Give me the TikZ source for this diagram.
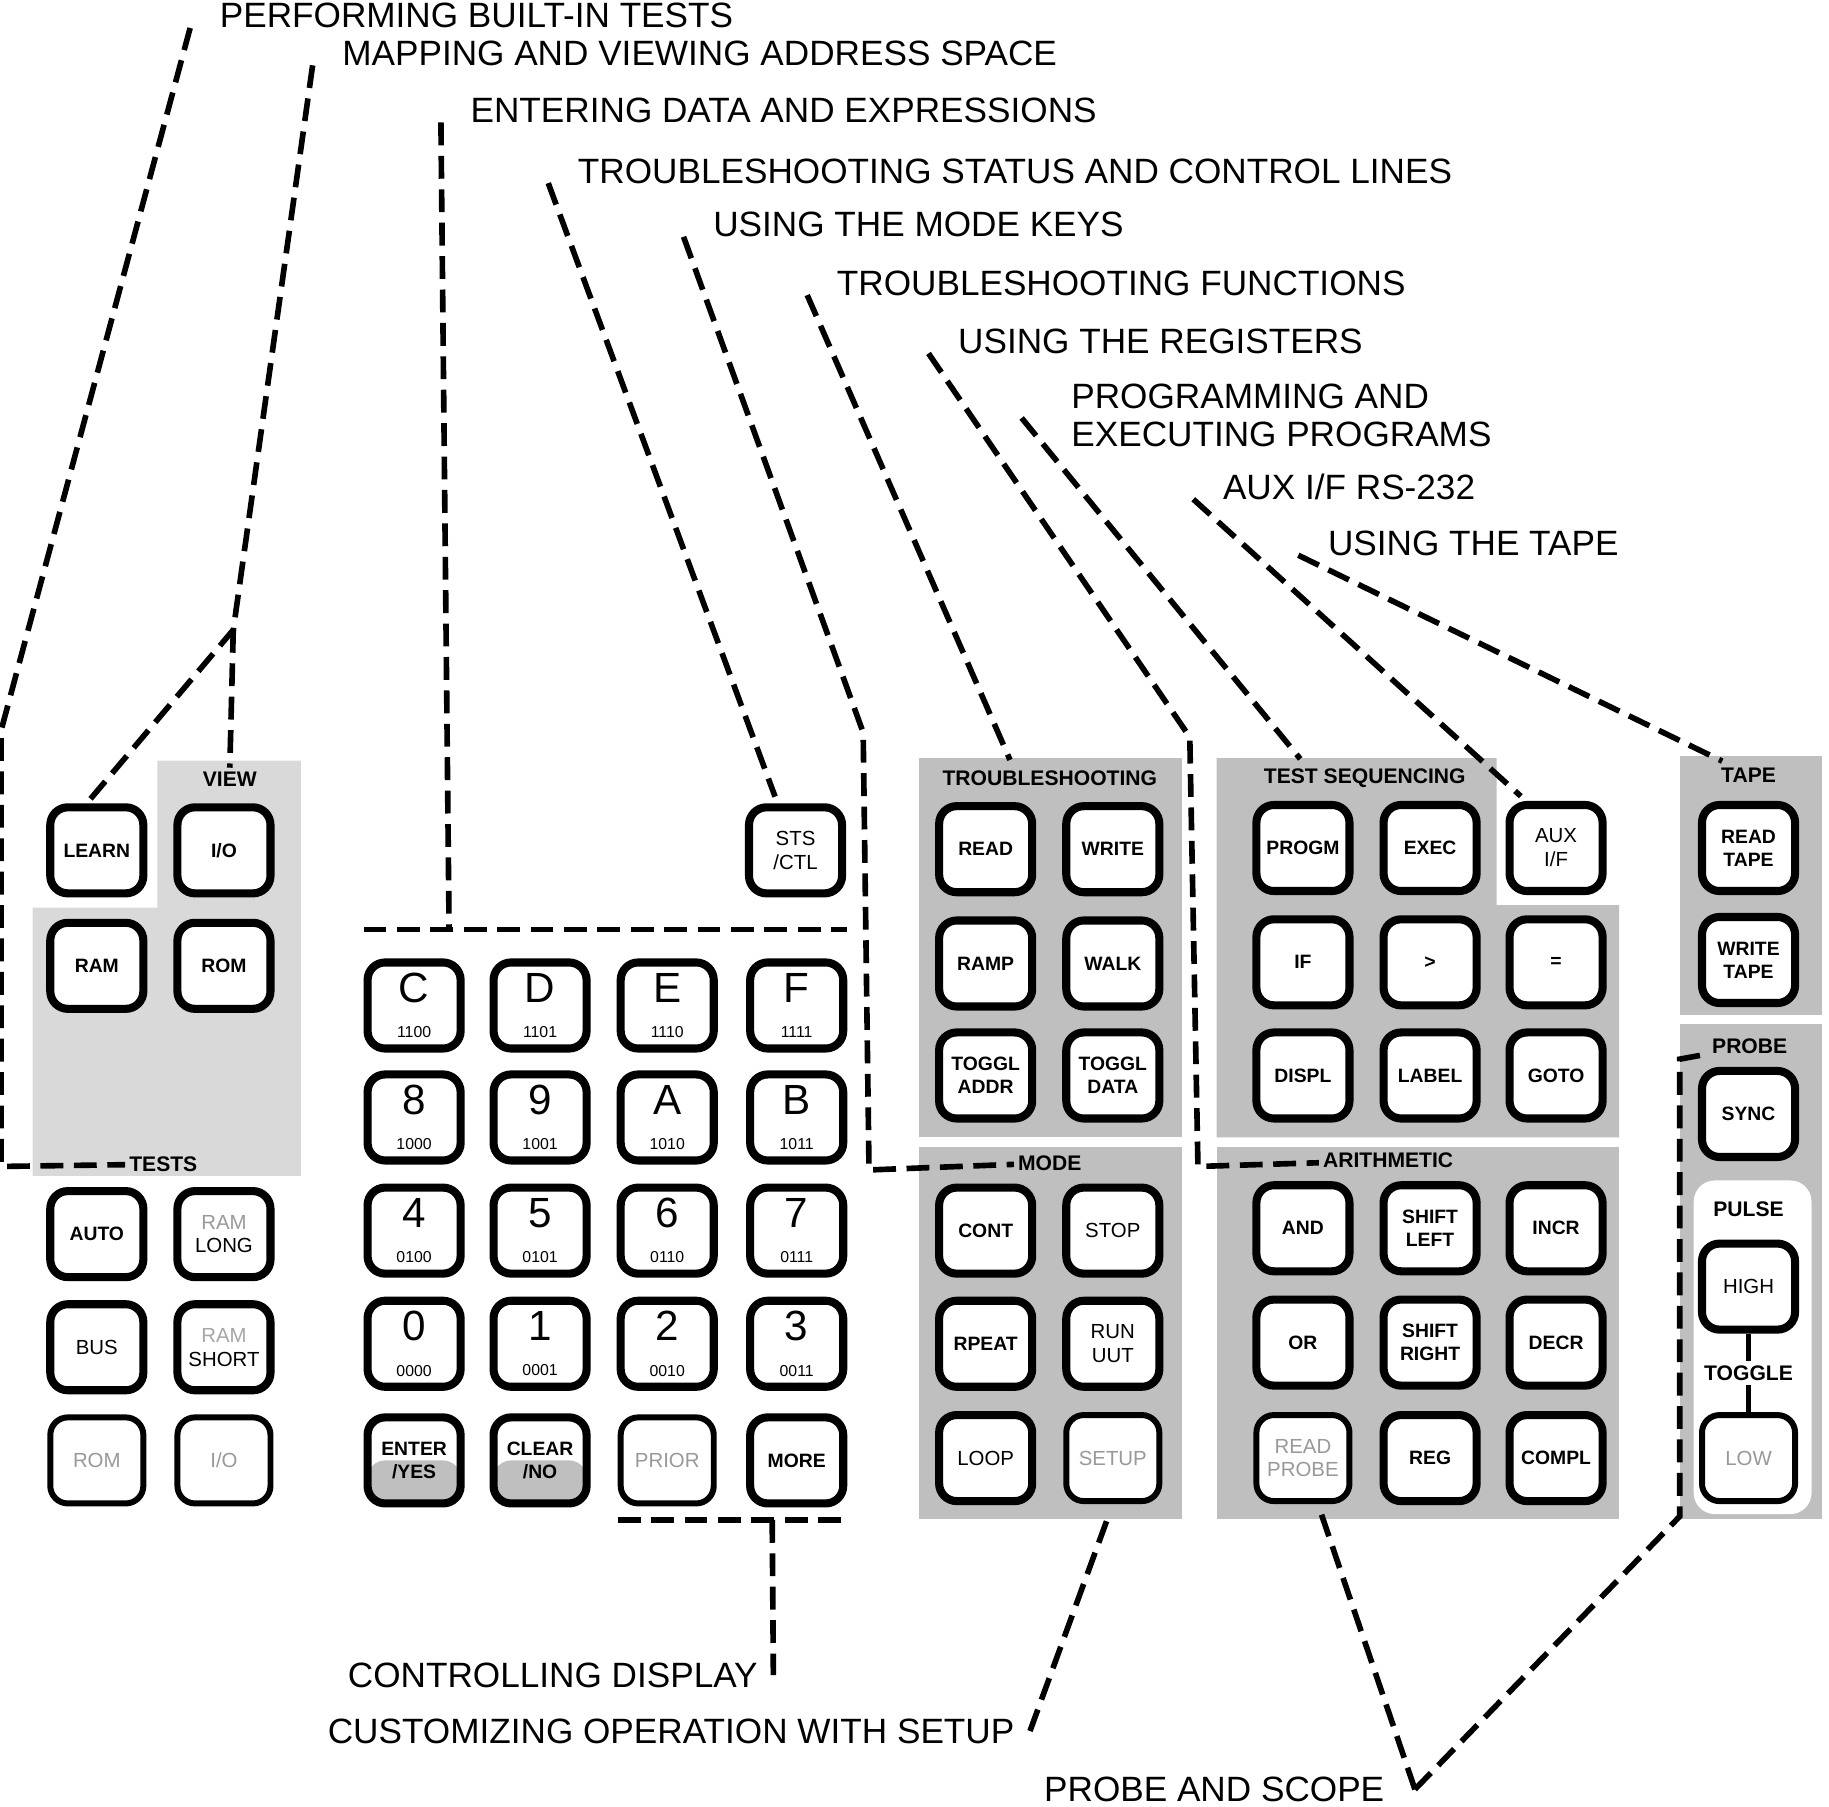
\documentclass[tikz,border=0pt]{standalone}
\usepackage{fontspec}
\setmainfont{Liberation Sans}

\newcommand{\kbits}[1]{{\fontsize{4.5}{5}\selectfont #1}}

\begin{document}
\begin{tikzpicture}[
    x=0.011665cm, y=-0.011665cm,
    % Styles for the keys
    key/.style={draw, line width=2.3pt, rounded corners=5pt, fill=white,
        minimum width=0.93cm, minimum height=0.86cm, inner sep=1pt,
        align=center, font=\fontsize{5.5}{6.5}\selectfont\bfseries},
    softkey/.style={key, font=\fontsize{5.8}{6.8}\selectfont},
    faintkey/.style={key, line width=1.7pt, text=black!40, font=\fontsize{5.8}{6.8}\selectfont},
    hexkey/.style={key, font=\fontsize{12}{10}\selectfont},
    shadekey/.style={key, path picture={\fill[black!25] (path picture bounding box.west) rectangle (path picture bounding box.south east);}},
    % Styles for headings and callouts
    group/.style={font=\fontsize{6}{6}\selectfont\bfseries, inner sep=1pt},
    tag/.style={anchor=base west, inner xsep=0.29cm, inner ysep=1pt, font=\fontsize{10}{12}\selectfont},
    endtag/.style={anchor=east, inner xsep=0.15cm, font=\fontsize{10}{12}\selectfont},
    leader/.style={line width=1.6pt, dash pattern=on 6.5pt off 3pt},
    panel/.style={fill=black!25}
]
\useasboundingbox (0,0) rectangle (1568,1549);

        % --- Panels ---
        \fill[black!15] (135,652) -- (258,652) -- (258,1008) -- (28,1008) -- (28,778) -- (135,778) -- cycle;
        \fill[panel] (788,650) rectangle (1013,975);
        \fill[panel] (788,983) rectangle (1013,1302);
        \fill[panel] (1043,650) -- (1283,650) -- (1283,776) -- (1388,776) -- (1388,975) -- (1043,975) -- cycle;
        \fill[panel] (1043,983) rectangle (1388,1302);
        \fill[panel] (1440,648) rectangle (1562,870);
        \fill[panel] (1440,878) rectangle (1562,1302);
        \fill[white, rounded corners=6pt] (1452,1012) rectangle (1553,1298);

        % --- Group Headings ---
        \node[group] (vview) at (197,668) {VIEW};
        \node[group] (vtests) at (140,998) {TESTS};
        \node[group] (vtrbl) at (900,667) {TROUBLESHOOTING};
        \node[group] (vmode) at (900,997) {MODE};
        \node[group] (vseq) at (1170,667) {TEST SEQUENCING};
        \node[group] (varith) at (1190,995) {ARITHMETIC};
        \node[group] (vtape) at (1499,665) {TAPE};
        \node[group] (vprobe) at (1500,897) {PROBE};
        \node[group] (vpulse) at (1499,1037) {PULSE};
        \node[group] (vtoggle) at (1499,1177) {TOGGLE};

        % --- Test / View Keys ---
        \node[key] (learn) at (83,729) {LEARN};
        \node[key] (io) at (192,729) {I/O};
        \node[key] (ram) at (83,828) {RAM};
        \node[key] (rom) at (192,828) {ROM};
        \node[key] (auto) at (83,1058) {AUTO};
        \node[softkey] (ramlong) at (192,1058) {\textcolor{black!40}{RAM}\\LONG};
        \node[softkey] (bus) at (83,1155) {BUS};
        \node[softkey] (ramshort) at (192,1155) {\textcolor{black!35}{RAM}\\SHORT};
        \node[faintkey] (romtest) at (83,1252) {ROM};
        \node[faintkey] (iotest) at (192,1252) {I/O};

        % --- Status Key ---
        \node[softkey] (sts) at (682,729) {STS\\/CTL};

        % --- Hex Keypad ---
        \node[hexkey] (kC) at (355,862) {C\\\kbits{1100}};
        \node[hexkey] (kD) at (463,862) {D\\\kbits{1101}};
        \node[hexkey] (kE) at (572,862) {E\\\kbits{1110}};
        \node[hexkey] (kF) at (683,862) {F\\\kbits{1111}};
        \node[hexkey] (k8) at (355,958) {8\\\kbits{1000}};
        \node[hexkey] (k9) at (463,958) {9\\\kbits{1001}};
        \node[hexkey] (kA) at (572,958) {A\\\kbits{1010}};
        \node[hexkey] (kB) at (683,958) {B\\\kbits{1011}};
        \node[hexkey] (k4) at (355,1055) {4\\\kbits{0100}};
        \node[hexkey] (k5) at (463,1055) {5\\\kbits{0101}};
        \node[hexkey] (k6) at (572,1055) {6\\\kbits{0110}};
        \node[hexkey] (k7) at (683,1055) {7\\\kbits{0111}};
        \node[hexkey] (k0) at (355,1152) {0\\\kbits{0000}};
        \node[hexkey] (k1) at (463,1152) {1\\\kbits{0001}};
        \node[hexkey] (k2) at (572,1152) {2\\\kbits{0010}};
        \node[hexkey] (k3) at (683,1152) {3\\\kbits{0011}};
        \node[shadekey] (kEnter) at (355,1252) {ENTER\\/YES};
        \node[shadekey] (kClear) at (463,1252) {CLEAR\\/NO};
        \node[faintkey] (kPrior) at (572,1252) {PRIOR};
        \node[key] (kMore) at (683,1252) {MORE};

        % --- Troubleshooting and Mode Keys ---
        \node[key] (read) at (845,728) {READ};
        \node[key] (write) at (954,728) {WRITE};
        \node[key] (ramp) at (845,826) {RAMP};
        \node[key] (walk) at (954,826) {WALK};
        \node[key] (toggla) at (845,922) {TOGGL\\ADDR};
        \node[key] (toggld) at (954,922) {TOGGL\\DATA};
        \node[key] (cont) at (845,1055) {CONT};
        \node[softkey] (stop) at (954,1055) {STOP};
        \node[key] (rpeat) at (845,1152) {RPEAT};
        \node[softkey] (runuut) at (954,1152) {RUN\\UUT};
        \node[softkey] (loop) at (845,1250) {LOOP};
        \node[faintkey] (setup) at (954,1250) {SETUP};

        % --- Test Sequencing and Arithmetic Keys ---
        \node[key] (progm) at (1117,727) {PROGM};
        \node[key] (exec) at (1226,727) {EXEC};
        \node[softkey] (aux) at (1334,727) {AUX\\I/F};
        \node[key] (kif) at (1117,825) {IF};
        \node[key] (kgt) at (1226,825) {>};
        \node[key] (keq) at (1334,825) {=};
        \node[key] (displ) at (1117,922) {DISPL};
        \node[key] (klabel) at (1226,922) {LABEL};
        \node[key] (kgoto) at (1334,922) {GOTO};
        \node[key] (kand) at (1117,1053) {AND};
        \node[key] (shl) at (1226,1053) {SHIFT\\LEFT};
        \node[key] (incr) at (1334,1053) {INCR};
        \node[key] (kor) at (1117,1151) {OR};
        \node[key] (shr) at (1226,1151) {SHIFT\\RIGHT};
        \node[key] (decr) at (1334,1151) {DECR};
        \node[faintkey] (rprobe) at (1117,1250) {READ\\PROBE};
        \node[key] (reg) at (1226,1250) {REG};
        \node[key] (compl) at (1334,1250) {COMPL};

        % --- Tape and Probe Keys ---
        \node[key] (rtape) at (1499,727) {READ\\TAPE};
        \node[key] (wtape) at (1499,823) {WRITE\\TAPE};
        \node[key] (sync) at (1499,955) {SYNC};
        \node[softkey] (high) at (1499,1103) {HIGH};
        \node[faintkey] (low) at (1499,1250) {LOW};
        \draw[line width=1.4pt] (high) -- (vtoggle) -- (low);

        % --- Callouts ---
        \node[tag] (lbltests) at (163,24) {PERFORMING BUILT-IN TESTS};
        \node[tag] (lblmap) at (268,56) {MAPPING AND VIEWING ADDRESS SPACE};
        \node[tag] (lblentr) at (378,105) {ENTERING DATA AND EXPRESSIONS};
        \node[tag] (lblsts) at (470,157) {TROUBLESHOOTING STATUS AND CONTROL LINES};
        \node[tag] (lblmode) at (586,203) {USING THE MODE KEYS};
        \node[tag] (lblfunc) at (692,253) {TROUBLESHOOTING FUNCTIONS};
        \node[tag] (lblreg) at (796,303) {USING THE REGISTERS};
        \node[tag] (lblprog) at (893,350) {PROGRAMMING AND};
        \node[tag] (lblexec) at (893,383) {EXECUTING PROGRAMS};
        \node[tag] (lblaux) at (1023,428) {AUX I/F RS-232};
        \node[tag] (lbltape) at (1113,476) {USING THE TAPE};
        \node[endtag] (lbldisp) at (663,1436) {CONTROLLING DISPLAY};
        \node[endtag] (lblsetup) at (883,1484) {CUSTOMIZING OPERATION WITH SETUP};
        \node[endtag, inner xsep=0.3cm] (lblprobe) at (1213,1534) {PROBE AND SCOPE};

        % --- Bends ---
        \coordinate (t1) at (1,626);
        \coordinate (t2) at (1,1000);
        \coordinate (mb) at (200,540);
        \coordinate (e1) at (385,797);
        \coordinate (m1) at (740,628);
        \coordinate (m2) at (745,1003);
        \coordinate (r1) at (1020,632);
        \coordinate (r2) at (1027,1000);
        \coordinate (d1) at (662,1303);
        \coordinate (p1) at (1440,1300);
        \coordinate (p2) at (1440,908);

        % --- Leader Lines ---
        \draw[leader] (lbltests.base west) -- (t1) -- (t2) -- (vtests);
        \draw[leader] (lblmap.base west) -- (mb) -- ([xshift=-0.1cm]learn.north);
        \draw[leader] (mb) -- (vview.north);
        \draw[leader] (lblentr.base west) -- (e1);
        \draw[leader] (kC.west |- e1) -- (kF.east |- e1);
        \draw[leader, shorten >=2pt] (lblsts.base west) -- ([xshift=-0.18cm]sts.north);
        \draw[leader] (lblmode.base west) -- (m1) -- (m2) -- (vmode);
        \draw[leader, shorten >=2pt] (lblfunc.base west) -- ([xshift=-0.37cm]vtrbl.north);
        \draw[leader] (lblreg.base west) -- (r1) -- (r2) -- (varith);
        \draw[leader, shorten >=2pt] ([xshift=-0.2cm]lblexec.north west) -- ([xshift=-0.6cm]vseq.north);
        \draw[leader, shorten >=2pt] (lblaux.base west) -- ([xshift=-0.3cm]aux.north);
        \draw[leader, shorten >=2pt] (lbltape.base west) -- ([xshift=-0.2cm]vtape.north);
        \draw[leader] (kPrior.west |- d1) -- (kMore.east |- d1);
        \draw[leader] (d1) -- (lbldisp.east);
        \draw[leader, shorten >=3pt] (lblsetup.east) -- (setup.south);
        \draw[leader, shorten >=3pt] (lblprobe.east) -- ([xshift=0.15cm]rprobe.south);
        \draw[leader] (lblprobe.east) -- (p1) -- (p2) -- (vprobe);

    \end{tikzpicture}
\end{document}
